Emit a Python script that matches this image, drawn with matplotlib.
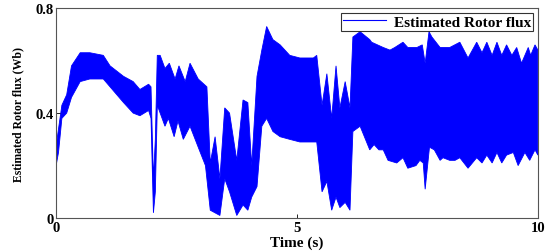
import numpy as np
import matplotlib
matplotlib.use('Agg')
from matplotlib import pyplot as plt

# Upper / lower envelope of the estimated rotor flux, Wb
upper_t = [0.0, 0.02, 0.05, 0.12, 0.22, 0.32, 0.5, 0.7, 0.98, 1.12, 1.4, 1.6, 1.74, 1.92,
           1.97, 2.02, 2.06, 2.1, 2.16, 2.26, 2.35, 2.47, 2.55, 2.68, 2.78, 2.95, 3.13,
           3.2, 3.3, 3.4, 3.5, 3.6, 3.75, 3.88, 3.98, 4.06, 4.17, 4.27, 4.37, 4.5, 4.65,
           4.85, 5.06, 5.34, 5.41, 5.52, 5.62, 5.72, 5.81, 5.89, 6.0, 6.1, 6.16, 6.31,
           6.51, 6.55, 6.79, 6.93, 7.03, 7.2, 7.3, 7.49, 7.6, 7.66, 7.74, 7.8, 7.97,
           8.17, 8.38, 8.55, 8.73, 8.84, 8.94, 9.05, 9.15, 9.25, 9.35, 9.46, 9.56, 9.66,
           9.8, 9.85, 9.94, 10.0]
upper_flux = [0.22, 0.30, 0.34, 0.43, 0.47, 0.58, 0.63, 0.63, 0.62, 0.58, 0.54, 0.52, 0.49, 0.51,
              0.50, 0.15, 0.30, 0.62, 0.62, 0.57, 0.59, 0.53, 0.58, 0.52, 0.59, 0.53, 0.50,
              0.21, 0.31, 0.15, 0.42, 0.40, 0.22, 0.45, 0.44, 0.20, 0.54, 0.64, 0.73, 0.68, 0.66,
              0.62, 0.61, 0.61, 0.62, 0.43, 0.55, 0.38, 0.58, 0.42, 0.52, 0.42, 0.69, 0.71,
              0.68, 0.67, 0.65, 0.64, 0.65, 0.67, 0.65, 0.65, 0.66, 0.59, 0.71, 0.69, 0.65,
              0.65, 0.67, 0.61, 0.67, 0.63, 0.67, 0.62, 0.67, 0.62, 0.66, 0.62, 0.65, 0.59,
              0.65, 0.62, 0.66, 0.64]

lower_t = [0.0, 0.02, 0.05, 0.12, 0.22, 0.32, 0.5, 0.7, 0.98, 1.12, 1.4, 1.6, 1.74, 1.92,
           1.97, 2.02, 2.06, 2.1, 2.12, 2.26, 2.33, 2.45, 2.53, 2.64, 2.78, 2.95, 3.1,
           3.2, 3.3, 3.4, 3.5, 3.6, 3.75, 3.88, 3.98, 4.06, 4.17, 4.27, 4.37, 4.5, 4.65,
           4.85, 5.06, 5.34, 5.41, 5.52, 5.62, 5.72, 5.81, 5.89, 6.0, 6.1, 6.16, 6.31,
           6.51, 6.6, 6.7, 6.79, 6.89, 7.07, 7.2, 7.3, 7.47, 7.55, 7.62, 7.66, 7.75, 7.85,
           7.97, 8.03, 8.17, 8.28, 8.38, 8.55, 8.73, 8.84, 8.94, 9.05, 9.15, 9.25, 9.35,
           9.49, 9.59, 9.73, 9.83, 9.94, 10.0]
lower_flux = [0.20, 0.22, 0.25, 0.38, 0.40, 0.46, 0.52, 0.53, 0.53, 0.50, 0.44, 0.40, 0.39, 0.41,
              0.38, 0.02, 0.10, 0.42, 0.42, 0.35, 0.38, 0.31, 0.37, 0.30, 0.35, 0.27, 0.20,
              0.03, 0.02, 0.01, 0.15, 0.10, 0.01, 0.05, 0.03, 0.08, 0.12, 0.35, 0.38, 0.33, 0.31,
              0.30, 0.29, 0.29, 0.29, 0.10, 0.14, 0.03, 0.08, 0.04, 0.06, 0.03, 0.33, 0.35,
              0.26, 0.28, 0.26, 0.26, 0.22, 0.21, 0.23, 0.19, 0.20, 0.22, 0.21, 0.11, 0.27, 0.26,
              0.22, 0.23, 0.22, 0.22, 0.23, 0.19, 0.23, 0.21, 0.24, 0.21, 0.25, 0.21, 0.24,
              0.25, 0.20, 0.25, 0.22, 0.26, 0.24]

x_ticks = [0, 5, 10]
y_ticks = [0, 0.4, 0.8]
y_tick_labels = ['0', '0.4', '0.8']

plt.rcParams['font.family'] = ['Liberation Serif', 'DejaVu Serif']
plt.rcParams['font.weight'] = 'bold'

fig = plt.figure(figsize=(5.5, 2.53), dpi=100)
ax = fig.add_axes([0.102, 0.134, 0.876, 0.830])

blue = '#0000ff'
# closed outline: along the upper envelope, back along the lower one
poly_t = np.concatenate([upper_t, lower_t[::-1]])
poly_v = np.concatenate([upper_flux, lower_flux[::-1]])
ax.fill(poly_t, poly_v, color=blue, linewidth=0.6, edgecolor=blue)
ax.plot([], [], color=blue, linewidth=0.8, label='Estimated Rotor flux')

ax.set_xlim(0, 10)
ax.set_ylim(0, 0.8)
ax.set_xticks(x_ticks)
ax.set_yticks(y_ticks)
ax.set_yticklabels(y_tick_labels)
ax.tick_params(direction='in', length=3, width=0.6, labelsize=10.5, pad=2)
for lbl in ax.get_xticklabels() + ax.get_yticklabels():
    lbl.set_fontweight('bold')
for s in ax.spines.values():
    s.set_color('#555555')
    s.set_linewidth(0.8)

ax.set_xlabel('Time (s)', fontsize=11, fontweight='bold', labelpad=1)
ax.set_ylabel('Estimated Rotor flux (Wb)', fontsize=8.5, fontweight='bold', labelpad=8)

leg = ax.legend(loc='upper right', frameon=True, fancybox=False,
                borderpad=0.15, handlelength=2.8, handletextpad=0.5,
                borderaxespad=0.3, prop={'weight': 'bold', 'size': 11})
leg.get_frame().set_edgecolor('black')
leg.get_frame().set_linewidth(0.8)

fig.savefig('out.png', dpi=100)
